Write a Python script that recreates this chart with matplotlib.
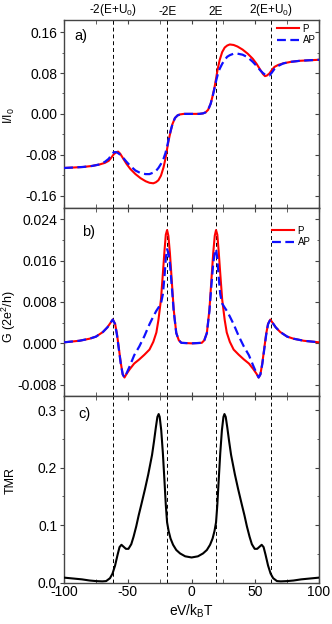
import matplotlib
matplotlib.use("Agg")
import matplotlib.pyplot as plt
from matplotlib.ticker import MultipleLocator, FormatStrFormatter

plt.rcParams.update({
    "font.family": ["Liberation Sans", "DejaVu Sans"],
    "mathtext.default": "regular",
    "axes.unicode_minus": False,
})

# resonance positions (dashed lines) and their labels on top
level_x = [-62, -19, 19, 62]
level_labels = ["-2(E+U$_0$)", "-2E", "2E", "2(E+U$_0$)"]

# a) current I/I0
x_a = [-100, -92, -85, -78, -72, -68, -65, -63, -61, -59, -57.6, -56, -54, -51, -48, -44,
       -40, -36, -33, -30, -28, -26, -24, -22, -20.5, -19, -18, -16.5, -15, -13, -11, -9, -6,
       0,
       6, 9, 11, 13, 15, 16.5, 18, 19, 20.5, 22, 24, 26, 28, 30, 33, 36, 40,
       44, 48, 51, 54, 56, 57.6, 59, 61, 63, 65, 68, 72, 78, 85, 92, 100]
i_p = [-0.106, -0.105, -0.104, -0.102, -0.099, -0.096, -0.092, -0.086, -0.079, -0.075, -0.074,
       -0.078, -0.086, -0.098, -0.108, -0.118, -0.126, -0.132, -0.135, -0.136, -0.134, -0.130,
       -0.121, -0.105, -0.088, -0.066, -0.052, -0.035, -0.020, -0.008, -0.003, -0.001, 0.000,
       0.000,
       0.000, 0.001, 0.003, 0.008, 0.020, 0.035, 0.052, 0.066, 0.088, 0.105, 0.121, 0.130,
       0.134, 0.136, 0.135, 0.132, 0.126, 0.118, 0.108, 0.098, 0.086, 0.078, 0.074, 0.075,
       0.079, 0.086, 0.092, 0.096, 0.099, 0.102, 0.104, 0.105, 0.106]
i_ap = [-0.106, -0.105, -0.104, -0.102, -0.099, -0.094, -0.088, -0.081, -0.075, -0.075, -0.077,
        -0.080, -0.085, -0.094, -0.102, -0.111, -0.116, -0.118, -0.118, -0.115, -0.112, -0.106,
        -0.098, -0.088, -0.077, -0.062, -0.050, -0.034, -0.020, -0.008, -0.003, -0.001, 0.000,
        0.000,
        0.000, 0.001, 0.003, 0.008, 0.020, 0.034, 0.050, 0.062, 0.077, 0.088, 0.098, 0.106,
        0.112, 0.115, 0.118, 0.118, 0.116, 0.111, 0.102, 0.094, 0.085, 0.080, 0.077, 0.075,
        0.075, 0.081, 0.088, 0.094, 0.099, 0.102, 0.104, 0.105, 0.106]

# b) differential conductance
x_b = [-100, -88, -80, -75, -69.5, -66, -63.5, -61.8, -60, -58.5, -57, -55.5, -54, -52.6, -51,
       -48.5, -45, -41, -37, -33, -30, -27.6, -26, -24, -22.5, -21.2, -20.2, -19.2, -18.2, -17,
       -15.5, -14, -12, -10, -8,
       0,
       8, 10, 12, 14, 15.5, 17, 18.2, 19.2, 20.2, 21.2, 22.5, 24, 26, 27.6, 30, 33, 37, 41, 45,
       48.5, 51, 52.6, 54, 55.5, 57, 58.5, 60, 61.8, 63.5, 66, 69.5, 75, 80, 88, 100]
g_p = [0.0002, 0.0005, 0.0009, 0.0013, 0.0022, 0.0031, 0.0040, 0.0046, 0.0038, 0.0018, -0.0010,
       -0.0038, -0.0060, -0.0066, -0.0059, -0.0050, -0.0039, -0.0031, -0.0022, -0.0012, 0.0003,
       0.0021, 0.0045, 0.0085, 0.0135, 0.0180, 0.0210, 0.0219, 0.0208, 0.0175, 0.0120, 0.0065,
       0.0020, 0.0006, 0.0001,
       0.0000,
       0.0001, 0.0006, 0.0020, 0.0065, 0.0120, 0.0175, 0.0208, 0.0219, 0.0210, 0.0180, 0.0135,
       0.0085, 0.0045, 0.0021, 0.0003, -0.0012, -0.0022, -0.0031, -0.0039, -0.0050, -0.0059,
       -0.0066, -0.0060, -0.0038, -0.0010, 0.0018, 0.0038, 0.0046, 0.0040, 0.0031, 0.0022,
       0.0013, 0.0009, 0.0005, 0.0002]
g_ap = [0.0002, 0.0005, 0.0009, 0.0013, 0.0022, 0.0031, 0.0040, 0.0046, 0.0037, 0.0016, -0.0012,
        -0.0040, -0.0060, -0.0066, -0.0058, -0.0044, -0.0023, -0.0006, 0.0014, 0.0037, 0.0052,
        0.0063, 0.0069, 0.0077, 0.0095, 0.0130, 0.0165, 0.0182, 0.0175, 0.0155, 0.0110, 0.0062,
        0.0020, 0.0006, 0.0001,
        0.0000,
        0.0001, 0.0006, 0.0020, 0.0062, 0.0110, 0.0155, 0.0175, 0.0182, 0.0165, 0.0130, 0.0095,
        0.0077, 0.0069, 0.0063, 0.0052, 0.0037, 0.0014, -0.0006, -0.0023, -0.0044, -0.0058,
        -0.0066, -0.0060, -0.0040, -0.0012, 0.0016, 0.0037, 0.0046, 0.0040, 0.0031, 0.0022,
        0.0013, 0.0009, 0.0005, 0.0002]

# c) tunnel magnetoresistance
x_c = [-100, -93, -86, -80, -75, -70, -67, -64, -62, -60, -58, -56.5, -55, -53, -51.5, -49.5,
       -47.3, -45.5, -43.4, -41.5, -39.4, -36.5, -34, -31, -29.5, -28, -26.8, -25.8, -25, -23.8,
       -22.5, -21.2, -20.2, -19.2, -18, -16.5, -14.5, -12, -9, -5,
       0,
       5, 9, 12, 14.5, 16.5, 18, 19.2, 20.2, 21.2, 22.5, 23.8, 25, 25.8, 26.8, 28, 29.5, 31, 34,
       36.5, 39.4, 41.5, 43.4, 45.5, 47.3, 49.5, 51.5, 53, 55, 56.5, 58, 60, 62, 64, 67, 70, 75,
       80, 86, 93, 100]
tmr = [0.009, 0.0075, 0.006, 0.004, 0.003, 0.0025, 0.003, 0.008, 0.016, 0.030, 0.049, 0.062,
       0.066, 0.062, 0.059, 0.059, 0.067, 0.080, 0.098, 0.117, 0.136, 0.163, 0.188, 0.222, 0.245,
       0.270, 0.288, 0.293, 0.288, 0.265, 0.225, 0.175, 0.135, 0.105, 0.090, 0.077, 0.066, 0.057,
       0.051, 0.046,
       0.044,
       0.046, 0.051, 0.057, 0.066, 0.077, 0.090, 0.105, 0.135, 0.175, 0.225, 0.265, 0.288, 0.293,
       0.288, 0.270, 0.245, 0.222, 0.188, 0.163, 0.136, 0.117, 0.098, 0.080, 0.067, 0.059, 0.059,
       0.062, 0.066, 0.062, 0.049, 0.030, 0.016, 0.008, 0.003, 0.0025, 0.003, 0.004, 0.006,
       0.0075, 0.009]

frame_color = "#444444"


def style_axis(ax, ylim, ymajor, yminor, fmt):
    ax.set_xlim(-100, 100)
    ax.set_ylim(*ylim)
    ax.xaxis.set_major_locator(MultipleLocator(50))
    ax.xaxis.set_minor_locator(MultipleLocator(25))
    ax.yaxis.set_major_locator(MultipleLocator(ymajor))
    ax.yaxis.set_minor_locator(MultipleLocator(yminor))
    ax.yaxis.set_major_formatter(FormatStrFormatter(fmt))
    for sp in ax.spines.values():
        sp.set_color(frame_color)
        sp.set_linewidth(1.0)
    ax.tick_params(axis="x", which="both", direction="in", top=True, bottom=True,
                   color=frame_color, length=3, labelsize=10, pad=1.5)
    ax.tick_params(axis="y", which="both", direction="out", left=True, right=False,
                   color=frame_color, labelsize=10, pad=2)
    ax.tick_params(axis="y", which="major", length=3)
    ax.tick_params(axis="y", which="minor", length=1.8)
    right = ax.secondary_yaxis("right")
    right.yaxis.set_major_locator(MultipleLocator(ymajor))
    right.yaxis.set_minor_locator(MultipleLocator(yminor))
    right.tick_params(which="both", direction="in", labelright=False, color=frame_color)
    right.tick_params(which="major", length=3)
    right.tick_params(which="minor", length=1.8)
    right.spines["right"].set_color(frame_color)
    for xv in level_x:
        ax.axvline(xv, color="black", lw=0.7, ls=(0, (4, 3)), zorder=1)


fig = plt.figure(figsize=(3.32, 6.24), dpi=100)
ax_a = fig.add_axes([0.193, 0.667, 0.768, 0.301])
ax_b = fig.add_axes([0.193, 0.366, 0.768, 0.301], sharex=ax_a)
ax_c = fig.add_axes([0.193, 0.066, 0.768, 0.300], sharex=ax_a)

# a)
ax_a.plot(x_a, i_p, color="#ff0000", lw=1.5, label="P", zorder=3)
ax_a.plot(x_a, i_ap, color="#1010ff", lw=1.6, ls=(0, (4, 2)), label="AP", zorder=4)
style_axis(ax_a, (-0.184, 0.184), 0.08, 0.04, "%.2f")
ax_a.tick_params(axis="x", labelbottom=False)
ax_a.set_ylabel("I/I$_0$", fontsize=9)
ax_a.yaxis.set_label_coords(-0.185, 0.49)
ax_a.text(0.04, 0.915, "a)", transform=ax_a.transAxes, fontsize=10.5, va="center")
ax_a.legend(loc="upper right", bbox_to_anchor=(0.99, 0.985), frameon=False, fontsize=7,
            handlelength=2.2, handletextpad=0.4, labelspacing=0.15, borderpad=0.1,
            borderaxespad=0)
for xv, lab in zip(level_x, level_labels):
    ax_a.text(xv, 1.012, lab, transform=ax_a.get_xaxis_transform(), ha="center",
              va="bottom", fontsize=8.5)

# b)
ax_b.plot(x_b, g_p, color="#ff0000", lw=1.5, label="P", zorder=3)
ax_b.plot(x_b, g_ap, color="#1010ff", lw=1.6, ls=(0, (4, 2)), label="AP", zorder=4)
style_axis(ax_b, (-0.0101, 0.0262), 0.008, 0.004, "%.3f")
ax_b.tick_params(axis="x", labelbottom=False)
ax_b.set_ylabel("G (2e$^2$/h)", fontsize=9)
ax_b.yaxis.set_label_coords(-0.18, 0.42)
ax_b.text(0.07, 0.872, "b)", transform=ax_b.transAxes, fontsize=10.5, va="center")
ax_b.legend(loc="upper right", bbox_to_anchor=(0.97, 0.91), frameon=False, fontsize=7,
            handlelength=2.2, handletextpad=0.4, labelspacing=0.15, borderpad=0.1,
            borderaxespad=0)

# c)
ax_c.plot(x_c, tmr, color="black", lw=1.5, zorder=3)
style_axis(ax_c, (0.0, 0.325), 0.1, 0.05, "%.1f")
ax_c.set_ylabel("TMR", fontsize=9)
ax_c.yaxis.set_label_coords(-0.185, 0.545)
ax_c.set_xlabel("eV/k$_B$T", fontsize=10, labelpad=3)
ax_c.text(0.055, 0.9, "c)", transform=ax_c.transAxes, fontsize=10.5, va="center")

fig.savefig("out.png", dpi=100)
